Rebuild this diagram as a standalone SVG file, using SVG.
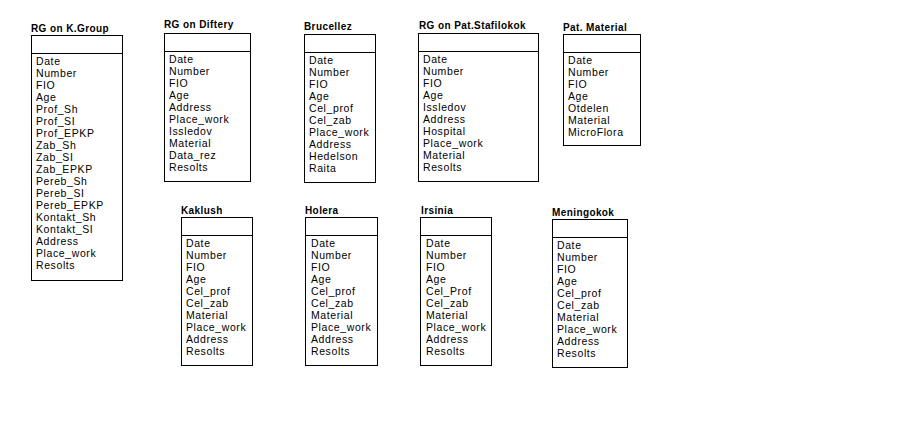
<svg xmlns="http://www.w3.org/2000/svg" width="907" height="439" viewBox="0 0 907 439">
<style>
.box{fill:#fff;stroke:#000;stroke-width:1}
.div{stroke:#000;stroke-width:1}
.ttl{font-family:"Liberation Sans",Arial,sans-serif;font-size:10px;font-weight:bold;letter-spacing:0.4px;fill:#000}
.row{font-family:"Liberation Sans",Arial,sans-serif;font-size:10.5px;letter-spacing:0.6px;fill:#000}
</style>
<rect width="907" height="439" fill="#fff"/>
<g id="connectors"/>

<g id="t-rg-kgroup">
<text class="ttl" x="31" y="32">RG on K.Group</text>
<rect class="box" x="31.5" y="35.5" width="91" height="245"/>
<line class="div" x1="31.5" y1="53.5" x2="122.5" y2="53.5"/>
<text class="row" x="36" y="65"><tspan x="36" dy="0">Date</tspan><tspan x="36" dy="12">Number</tspan><tspan x="36" dy="12">FIO</tspan><tspan x="36" dy="12">Age</tspan><tspan x="36" dy="12">Prof_Sh</tspan><tspan x="36" dy="12">Prof_SI</tspan><tspan x="36" dy="12">Prof_EPKP</tspan><tspan x="36" dy="12">Zab_Sh</tspan><tspan x="36" dy="12">Zab_SI</tspan><tspan x="36" dy="12">Zab_EPKP</tspan><tspan x="36" dy="12">Pereb_Sh</tspan><tspan x="36" dy="12">Pereb_SI</tspan><tspan x="36" dy="12">Pereb_EPKP</tspan><tspan x="36" dy="12">Kontakt_Sh</tspan><tspan x="36" dy="12">Kontakt_SI</tspan><tspan x="36" dy="12">Address</tspan><tspan x="36" dy="12">Place_work</tspan><tspan x="36" dy="12">Resolts</tspan></text>
</g>

<g id="t-rg-diftery">
<text class="ttl" x="164" y="28">RG on Diftery</text>
<rect class="box" x="164.5" y="33.5" width="86" height="148"/>
<line class="div" x1="164.5" y1="51.5" x2="250.5" y2="51.5"/>
<text class="row" x="169" y="63"><tspan x="169" dy="0">Date</tspan><tspan x="169" dy="12">Number</tspan><tspan x="169" dy="12">FIO</tspan><tspan x="169" dy="12">Age</tspan><tspan x="169" dy="12">Address</tspan><tspan x="169" dy="12">Place_work</tspan><tspan x="169" dy="12">Issledov</tspan><tspan x="169" dy="12">Material</tspan><tspan x="169" dy="12">Data_rez</tspan><tspan x="169" dy="12">Resolts</tspan></text>
</g>

<g id="t-brucellez">
<text class="ttl" x="304" y="30">Brucellez</text>
<rect class="box" x="304.5" y="34.5" width="71" height="148"/>
<line class="div" x1="304.5" y1="52.5" x2="375.5" y2="52.5"/>
<text class="row" x="309" y="64"><tspan x="309" dy="0">Date</tspan><tspan x="309" dy="12">Number</tspan><tspan x="309" dy="12">FIO</tspan><tspan x="309" dy="12">Age</tspan><tspan x="309" dy="12">Cel_prof</tspan><tspan x="309" dy="12">Cel_zab</tspan><tspan x="309" dy="12">Place_work</tspan><tspan x="309" dy="12">Address</tspan><tspan x="309" dy="12">Hedelson</tspan><tspan x="309" dy="12">Raita</tspan></text>
</g>

<g id="t-rg-stafilokok">
<text class="ttl" x="419" y="29">RG on Pat.Stafilokok</text>
<rect class="box" x="418.5" y="33.5" width="120" height="148"/>
<line class="div" x1="418.5" y1="51.5" x2="538.5" y2="51.5"/>
<text class="row" x="423" y="63"><tspan x="423" dy="0">Date</tspan><tspan x="423" dy="12">Number</tspan><tspan x="423" dy="12">FIO</tspan><tspan x="423" dy="12">Age</tspan><tspan x="423" dy="12">Issledov</tspan><tspan x="423" dy="12">Address</tspan><tspan x="423" dy="12">Hospital</tspan><tspan x="423" dy="12">Place_work</tspan><tspan x="423" dy="12">Material</tspan><tspan x="423" dy="12">Resolts</tspan></text>
</g>

<g id="t-pat-material">
<text class="ttl" x="563" y="31">Pat. Material</text>
<rect class="box" x="563.5" y="34.5" width="77" height="111"/>
<line class="div" x1="563.5" y1="52.5" x2="640.5" y2="52.5"/>
<text class="row" x="568" y="64"><tspan x="568" dy="0">Date</tspan><tspan x="568" dy="12">Number</tspan><tspan x="568" dy="12">FIO</tspan><tspan x="568" dy="12">Age</tspan><tspan x="568" dy="12">Otdelen</tspan><tspan x="568" dy="12">Material</tspan><tspan x="568" dy="12">MicroFlora</tspan></text>
</g>

<g id="t-kaklush">
<text class="ttl" x="181" y="214">Kaklush</text>
<rect class="box" x="181.5" y="217.5" width="71" height="148"/>
<line class="div" x1="181.5" y1="235.5" x2="252.5" y2="235.5"/>
<text class="row" x="186" y="247"><tspan x="186" dy="0">Date</tspan><tspan x="186" dy="12">Number</tspan><tspan x="186" dy="12">FIO</tspan><tspan x="186" dy="12">Age</tspan><tspan x="186" dy="12">Cel_prof</tspan><tspan x="186" dy="12">Cel_zab</tspan><tspan x="186" dy="12">Material</tspan><tspan x="186" dy="12">Place_work</tspan><tspan x="186" dy="12">Address</tspan><tspan x="186" dy="12">Resolts</tspan></text>
</g>

<g id="t-holera">
<text class="ttl" x="305" y="214">Holera</text>
<rect class="box" x="305.5" y="217.5" width="72" height="148"/>
<line class="div" x1="305.5" y1="235.5" x2="377.5" y2="235.5"/>
<text class="row" x="311" y="247"><tspan x="311" dy="0">Date</tspan><tspan x="311" dy="12">Number</tspan><tspan x="311" dy="12">FIO</tspan><tspan x="311" dy="12">Age</tspan><tspan x="311" dy="12">Cel_prof</tspan><tspan x="311" dy="12">Cel_zab</tspan><tspan x="311" dy="12">Material</tspan><tspan x="311" dy="12">Place_work</tspan><tspan x="311" dy="12">Address</tspan><tspan x="311" dy="12">Resolts</tspan></text>
</g>

<g id="t-irsinia">
<text class="ttl" x="421" y="214">Irsinia</text>
<rect class="box" x="420.5" y="217.5" width="71" height="148"/>
<line class="div" x1="420.5" y1="235.5" x2="491.5" y2="235.5"/>
<text class="row" x="426" y="247"><tspan x="426" dy="0">Date</tspan><tspan x="426" dy="12">Number</tspan><tspan x="426" dy="12">FIO</tspan><tspan x="426" dy="12">Age</tspan><tspan x="426" dy="12">Cel_Prof</tspan><tspan x="426" dy="12">Cel_zab</tspan><tspan x="426" dy="12">Material</tspan><tspan x="426" dy="12">Place_work</tspan><tspan x="426" dy="12">Address</tspan><tspan x="426" dy="12">Resolts</tspan></text>
</g>

<g id="t-meningokok">
<text class="ttl" x="552" y="216">Meningokok</text>
<rect class="box" x="552.5" y="219.5" width="75" height="148"/>
<line class="div" x1="552.5" y1="237.5" x2="627.5" y2="237.5"/>
<text class="row" x="557" y="249"><tspan x="557" dy="0">Date</tspan><tspan x="557" dy="12">Number</tspan><tspan x="557" dy="12">FIO</tspan><tspan x="557" dy="12">Age</tspan><tspan x="557" dy="12">Cel_prof</tspan><tspan x="557" dy="12">Cel_zab</tspan><tspan x="557" dy="12">Material</tspan><tspan x="557" dy="12">Place_work</tspan><tspan x="557" dy="12">Address</tspan><tspan x="557" dy="12">Resolts</tspan></text>
</g>
</svg>
